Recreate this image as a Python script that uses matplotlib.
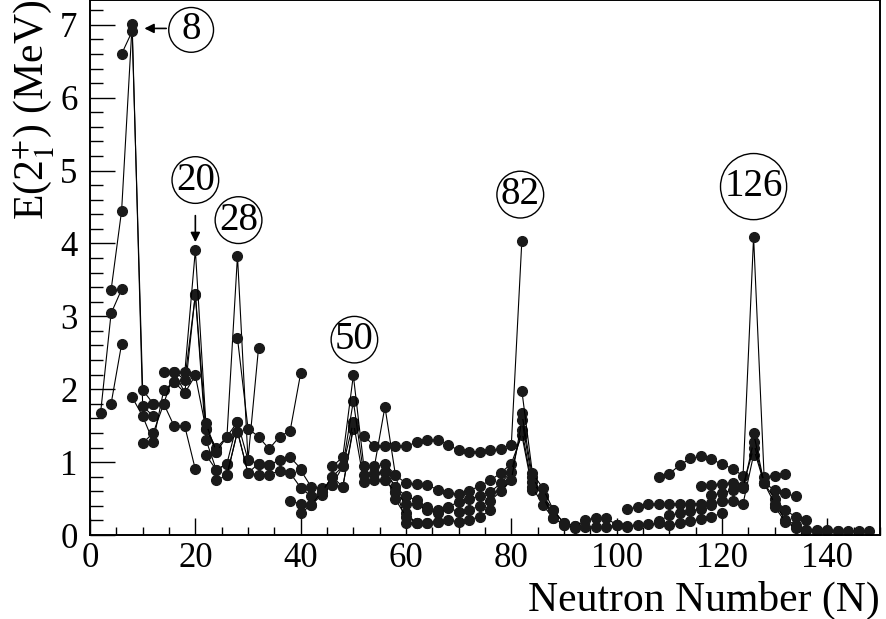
import matplotlib
matplotlib.use("Agg")
import matplotlib.pyplot as plt
from matplotlib.ticker import MultipleLocator

plt.rcParams['font.family'] = ['Liberation Serif', 'DejaVu Serif']
plt.rcParams['mathtext.fontset'] = 'stix'

# isotopic chains: neutron number N and E(2+_1) in MeV
he_N = [4, 6]
he_E = [1.80, 2.62]
be_N = [2, 4, 6]
be_E = [1.67, 3.04, 3.37]
c_N = [4, 6, 8, 10, 12]
c_E = [3.36, 4.45, 7.01, 1.77, 1.63]
o_N = [6, 8, 10, 12]
o_E = [6.60, 6.91, 1.99, 1.80]
ne_N = [8, 10, 12, 14, 16]
ne_E = [1.89, 1.63, 1.28, 1.99, 2.10]
mg_N = [10, 12, 14, 16, 18, 20]
mg_E = [1.26, 1.40, 1.80, 1.49, 1.49, 0.90]
si_N = [12, 14, 16, 18, 20, 22, 24]
si_E = [1.80, 1.80, 2.24, 1.95, 3.31, 1.46, 1.14]
s_N = [14, 16, 18, 20, 22, 24, 26]
s_E = [2.23, 2.24, 2.13, 3.29, 1.31, 0.89, 0.98]
ar_N = [16, 18, 20, 22, 24, 26, 28]
ar_E = [2.10, 1.95, 2.19, 1.46, 1.19, 1.35, 1.55]
ca_N = [18, 20, 22, 24, 26, 28, 30, 32]
ca_E = [2.23, 3.91, 1.53, 1.14, 1.35, 3.83, 1.03, 2.57]
ti_N = [22, 24, 26, 28, 30, 32, 34]
ti_E = [1.10, 0.89, 0.98, 1.55, 1.03, 0.98, 0.96]
cr_N = [24, 26, 28, 30, 32, 34, 36, 38, 40]
cr_E = [0.75, 0.82, 1.42, 0.85, 0.83, 0.83, 0.88, 0.85, 0.65]
fe_N = [26, 28, 30, 32, 34, 36, 38, 40]
fe_E = [0.82, 1.42, 0.85, 0.98, 0.96, 1.03, 1.07, 0.91]
ni_N = [28, 30, 32, 34, 36, 38, 40]
ni_E = [2.70, 1.46, 1.35, 1.18, 1.35, 1.43, 2.22]
zn_N = [40, 42, 44, 46, 48, 50]
zn_E = [0.89, 0.66, 0.64, 0.69, 0.66, 1.46]
ge_N = [40, 42, 44, 46, 48, 50]
ge_E = [0.65, 0.53, 0.59, 0.80, 0.66, 1.49]
kr_N = [38, 40, 42, 44, 46, 48, 50, 52, 54, 56, 58]
kr_E = [0.46, 0.43, 0.41, 0.55, 0.69, 0.94, 1.55, 0.73, 0.75, 0.75, 0.59]
sr_N = [40, 42, 44, 46, 48, 50, 52, 54, 56, 58, 60, 62]
sr_E = [0.30, 0.41, 0.59, 0.80, 0.94, 1.84, 0.82, 0.85, 0.87, 0.66, 0.16, 0.17]
zr_N = [46, 48, 50, 52, 54, 56, 58, 60, 62, 64, 66]
zr_E = [0.94, 1.07, 2.19, 0.94, 0.94, 1.76, 0.82, 0.30, 0.16, 0.17, 0.18]
sn_N = [52, 54, 56, 58, 60, 62, 64, 66, 68, 70, 72, 74, 76, 78, 80, 82]
sn_E = [1.36, 1.22, 1.22, 1.22, 1.22, 1.27, 1.30, 1.30, 1.24, 1.16, 1.14, 1.14, 1.16, 1.18, 1.24, 4.04]
te_N = [56, 58, 60, 62, 64, 66, 68, 70, 72, 74, 76, 78, 80, 82, 84]
te_E = [0.98, 0.82, 0.71, 0.70, 0.69, 0.62, 0.57, 0.56, 0.61, 0.67, 0.75, 0.85, 0.98, 1.37, 0.62]
xe_N = [56, 58, 60, 62, 64, 66, 68, 70, 72, 74, 76, 78, 80, 82, 84, 86, 88]
xe_E = [0.87, 0.66, 0.53, 0.48, 0.38, 0.34, 0.39, 0.45, 0.49, 0.54, 0.59, 0.71, 0.87, 1.44, 0.66, 0.41, 0.23]
ba_N = [56, 58, 60, 62, 64, 66, 68, 70, 72, 74, 76, 78, 80, 82, 84, 86, 88, 90]
ba_E = [0.75, 0.59, 0.43, 0.43, 0.34, 0.30, 0.37, 0.32, 0.34, 0.40, 0.47, 0.60, 0.75, 1.58, 0.73, 0.53, 0.34, 0.16]
ce_N = [58, 60, 62, 64, 66, 68, 70, 72, 74, 76]
ce_E = [0.49, 0.25, 0.17, 0.17, 0.18, 0.21, 0.18, 0.21, 0.25, 0.34]
nd_N = [82, 84, 86, 88, 90, 92]
nd_E = [1.67, 0.80, 0.53, 0.23, 0.14, 0.13]
gd_N = [82, 84, 86, 88, 90, 92, 94, 96, 98, 100]
gd_E = [1.98, 0.85, 0.64, 0.34, 0.16, 0.13, 0.11, 0.11, 0.11, 0.14]
dy_N = [90, 92, 94, 96, 98, 100, 102]
dy_E = [0.14, 0.10, 0.21, 0.23, 0.23, 0.14, 0.11]
os_N = [100, 102, 104, 106, 108, 110, 112, 114, 116, 118, 120]
os_E = [0.14, 0.12, 0.14, 0.15, 0.16, 0.14, 0.16, 0.19, 0.22, 0.25, 0.30]
pt_N = [108, 110, 112, 114, 116, 118, 120]
pt_E = [0.19, 0.27, 0.30, 0.33, 0.36, 0.41, 0.47]
hg_N = [102, 104, 106, 108, 110, 112, 114, 116, 118, 120, 122, 124, 126]
hg_E = [0.35, 0.39, 0.42, 0.42, 0.42, 0.43, 0.43, 0.43, 0.44, 0.46, 0.46, 0.43, 1.10]
pb_N = [108, 110, 112, 114, 116, 118, 120, 122, 124, 126, 128, 130, 132]
pb_E = [0.79, 0.84, 0.96, 1.05, 1.08, 1.04, 0.97, 0.91, 0.81, 4.09, 0.80, 0.81, 0.84]
po_N = [116, 118, 120, 122, 124, 126, 128, 130, 132, 134]
po_E = [0.67, 0.69, 0.70, 0.72, 0.67, 1.19, 0.71, 0.62, 0.57, 0.53]
rn_N = [118, 120, 122, 124, 126, 128, 130, 132, 134, 136]
rn_E = [0.55, 0.57, 0.62, 0.64, 1.28, 0.71, 0.50, 0.34, 0.25, 0.20]
ra_N = [126, 128, 130, 132, 134, 136, 138]
ra_E = [1.40, 0.71, 0.43, 0.21, 0.14, 0.07, 0.07]
th_N = [130, 132, 134, 136, 138, 140, 142]
th_E = [0.39, 0.18, 0.10, 0.07, 0.06, 0.05, 0.05]
u_N = [138, 140, 142, 144, 146, 148]
u_E = [0.05, 0.07, 0.05, 0.05, 0.06, 0.06]

chains = [
    (he_N, he_E), (be_N, be_E), (c_N, c_E), (o_N, o_E), (ne_N, ne_E),
    (mg_N, mg_E), (si_N, si_E), (s_N, s_E), (ar_N, ar_E), (ca_N, ca_E),
    (ti_N, ti_E), (cr_N, cr_E), (fe_N, fe_E), (ni_N, ni_E), (zn_N, zn_E),
    (ge_N, ge_E), (kr_N, kr_E), (sr_N, sr_E), (zr_N, zr_E), (sn_N, sn_E),
    (te_N, te_E), (xe_N, xe_E), (ba_N, ba_E), (ce_N, ce_E), (nd_N, nd_E),
    (gd_N, gd_E), (dy_N, dy_E), (os_N, os_E), (pt_N, pt_E), (hg_N, hg_E),
    (pb_N, pb_E), (po_N, po_E), (rn_N, rn_E), (ra_N, ra_E), (th_N, th_E),
    (u_N, u_E),
]

magic = ["8", "20", "28", "50", "82", "126"]
magic_pos = [(19.2, 6.93), (20.0, 4.87), (28.2, 4.32), (50.2, 2.68), (81.7, 4.67), (126.0, 4.78)]

fig = plt.figure(figsize=(8.86, 6.19), dpi=100)
ax = fig.add_axes([0.1016, 0.1357, 0.8916, 0.8643])

for n, e in chains:
    ax.plot(n, e, '-', color='black', lw=0.8, marker='o', ms=7.0,
            mfc='#1a1a1a', mec='#1a1a1a')

for lab, (x, y) in zip(magic, magic_pos):
    ax.text(x, y, lab, fontsize=28, ha='center', va='center',
            bbox=dict(boxstyle='circle,pad=0.1', fc='white', ec='black', lw=1.0))

ax.annotate('', xy=(9.8, 6.95), xytext=(15.0, 6.95),
            arrowprops=dict(arrowstyle='-|>', color='black', lw=1.2, mutation_scale=14))
ax.annotate('', xy=(20.0, 3.98), xytext=(20.0, 4.42),
            arrowprops=dict(arrowstyle='-|>', color='black', lw=1.2, mutation_scale=14))

ax.set_xlim(0, 150)
ax.set_ylim(0, 7.34)
ax.xaxis.set_major_locator(MultipleLocator(20))
ax.xaxis.set_minor_locator(MultipleLocator(5))
ax.yaxis.set_major_locator(MultipleLocator(1))
ax.yaxis.set_minor_locator(MultipleLocator(0.2))
ax.tick_params(axis='both', which='both', direction='in', labelsize=25, width=1.0)
ax.tick_params(axis='y', which='major', length=18, pad=9)
ax.tick_params(axis='y', which='minor', length=9)
ax.tick_params(axis='x', which='major', length=12, pad=5)
ax.tick_params(axis='x', which='minor', length=6)
for sp in ax.spines.values():
    sp.set_linewidth(1.4)

ax.set_xlabel('Neutron Number (N)', fontsize=30, loc='right', labelpad=4)
ax.set_ylabel(r'E(2$^{+}_{1}$) (MeV)', fontsize=30, loc='top', labelpad=2)

fig.savefig('out.png', dpi=100)
